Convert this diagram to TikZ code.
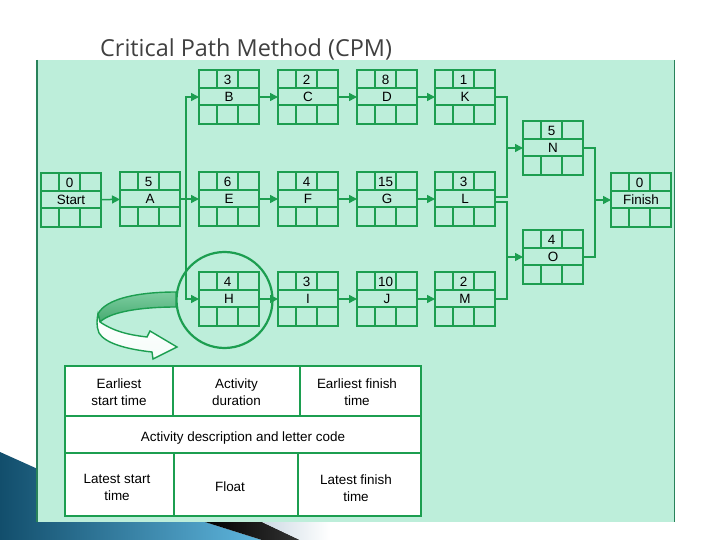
\documentclass[tikz,border=0pt]{standalone}
\usepackage{fontspec}
\setmainfont{Liberation Sans}
\newfontfamily\titlefont{Open Sans}
\usetikzlibrary{calc,arrows.meta}
\definecolor{mint}{RGB}{189,238,218}
\definecolor{gline}{RGB}{28,158,80}
\definecolor{pborder}{RGB}{40,130,90}
\definecolor{ttl}{RGB}{64,64,64}
\definecolor{bluedark}{RGB}{18,78,108}
\definecolor{bluelight}{RGB}{95,182,222}
\definecolor{ribA}{RGB}{125,205,160}
\definecolor{ribB}{RGB}{70,170,112}
\tikzset{
 actnode/.style={draw=gline, line width=2bp, minimum width=60bp, minimum height=54bp,
   inner sep=0pt, outer sep=0pt, font=\fontsize{13.5}{14}\selectfont},
 cell/.style={draw=gline, line width=1.4bp},
 conn/.style={draw=gline, line width=1.5bp, -{Triangle[length=8bp,width=8bp]}},
 plainconn/.style={draw=gline, line width=1.5bp},
 lbl/.style={font=\fontsize{13.5}{14}\selectfont, inner sep=0pt, anchor=center},
 legtxt/.style={font=\fontsize{13.5}{17}\selectfont, align=center, inner sep=0pt},
}
\newcommand\actbox[5]{%
  \node[actnode] (#1) at (#2+30,#3+27) {#5};
  \draw[cell] ($(#1.north west)+(0,18)$) -- ($(#1.north east)+(0,18)$);
  \draw[cell] ($(#1.north west)+(0,35)$) -- ($(#1.north east)+(0,35)$);
  \draw[cell] ($(#1.north west)+(18,0)$) -- ($(#1.north west)+(18,18)$);
  \draw[cell] ($(#1.north west)+(39,0)$) -- ($(#1.north west)+(39,18)$);
  \draw[cell] ($(#1.north west)+(18,35)$) -- ($(#1.north west)+(18,54)$);
  \draw[cell] ($(#1.north west)+(39,35)$) -- ($(#1.north west)+(39,54)$);
  \node[lbl] (#1-d) at ($(#1.north west)+(28.5,9.5)$) {#4};
}
\begin{document}
\begin{tikzpicture}[x=1bp,y=-1bp]
\useasboundingbox (0,0) rectangle (720,540);
\fill[white] (0,0) rectangle (720,540);
% bottom-left theme decoration
\shade[left color=bluedark, right color=bluelight] (0,452) -- (40,470) -- (205,522) -- (262,540) -- (0,540) -- cycle;
\shade[left color=black, right color=black!80] (205,522) -- (262,522) -- (300,540) -- (262,540) -- cycle;
\shade[left color={rgb,255:red,205;green,218;blue,228}, right color=white] (262,522) -- (330,522) -- (330,540) -- (300,540) -- cycle;
% panel
\fill[mint] (37,60) rectangle (674,522);
\draw[pborder, line width=2bp] (37,60) -- (37,522);
\draw[pborder, line width=0.8bp] (674,60) -- (674,522);
% title
\node[anchor=base west, font=\titlefont\fontsize{23.5}{25}\selectfont, text=ttl, inner sep=0pt] (title) at (100,57) {Critical Path Method (CPM)};
% activity boxes
\actbox{Start}{41}{173}{0}{Start}
\actbox{A}{120}{172}{5}{A}
\actbox{B}{199}{70}{3}{B}
\actbox{C}{278}{70}{2}{C}
\actbox{D}{357}{70}{8}{D}
\actbox{K}{435}{70}{1}{K}
\actbox{E}{199}{172}{6}{E}
\actbox{F}{278}{172}{4}{F}
\actbox{G}{357}{172}{15}{G}
\actbox{L}{435}{172}{3}{L}
\actbox{H}{199}{272}{4}{H}
\actbox{I}{278}{272}{3}{I}
\actbox{J}{357}{272}{10}{J}
\actbox{M}{435}{272}{2}{M}
\actbox{N}{523}{121}{5}{N}
\actbox{O}{523}{230}{4}{O}
\actbox{Finish}{611}{173}{0}{Finish}
% connectors
\coordinate (sa) at (186,199);
\coordinate (jn) at (507,148);
\coordinate (jo) at (507,257);
\coordinate (jf) at (595,200);
\draw[conn] (Start) -- (A);
\draw[conn] (A) -- (E);
\draw[conn] (sa) |- (B.west);
\draw[conn] (sa) |- (H.west);
\draw[conn] (B) -- (C);
\draw[conn] (C) -- (D);
\draw[conn] (D) -- (K);
\draw[conn] (E) -- (F);
\draw[conn] (F) -- (G);
\draw[conn] (G) -- (L);
\draw[conn] (H) -- (I);
\draw[conn] (I) -- (J);
\draw[conn] (J) -- (M);
\draw[plainconn] (K.east) -| (jn);
\draw[plainconn] ($(L.east)+(0,-2)$) -| (jn);
\draw[conn] (jn) -- (N.west);
\draw[plainconn] ($(L.east)+(0,3)$) -| (jo);
\draw[plainconn] (M.east) -| (jo);
\draw[conn] (jo) -- (O.west);
\draw[plainconn] (N.east) -| (jf);
\draw[plainconn] (O.east) -| (jf);
\draw[conn] (jf) -- (Finish.west);
% highlight circle
\node[draw=gline, line width=2.2bp, circle, minimum size=96bp, inner sep=0pt] (hcirc) at (224.5,300) {};
% ribbon arrow
\shade[top color=ribA, bottom color=ribB, draw=gline, line width=1.4bp]
  (176,292) .. controls (140,292) and (106,298) .. (98,314)
  -- (100,322) .. controls (110,312) and (140,307) .. (176,307) -- cycle;
\shade[top color=white, bottom color=white!85!mint, draw=gline, line width=1.4bp]
  (100,322) .. controls (115,332) and (130,335) .. (147,337)
  -- (150,331) -- (177,347) -- (153,359) -- (152,352)
  .. controls (125,349) and (105,343) .. (99,333)
  .. controls (96,326) and (97,318) .. (98,314) -- cycle;
% legend
\draw[gline, line width=1.5bp, fill=white] (65,366) rectangle (421,516);
\draw[gline, line width=1.2bp] (65,416) -- (421,416);
\draw[gline, line width=1.2bp] (65,453) -- (421,453);
\draw[gline, line width=2bp] (173,366) -- (173,416);
\draw[gline, line width=2bp] (300,366) -- (300,416);
\draw[gline, line width=2bp] (174,453) -- (174,516);
\draw[gline, line width=2bp] (298,453) -- (298,516);
\node[legtxt] (l1) at (119,392) {Earliest\\start time};
\node[legtxt] (l2) at (236.5,392) {Activity\\duration};
\node[legtxt] (l3) at (357,392) {Earliest finish\\time};
\node[legtxt] (l4) at (243,438) {Activity description and letter code};
\node[legtxt] (l5) at (117,487) {Latest start\\time};
\node[legtxt] (l6) at (230,487) {Float};
\node[legtxt] (l7) at (356,488) {Latest finish\\time};
\end{tikzpicture}
\end{document}
